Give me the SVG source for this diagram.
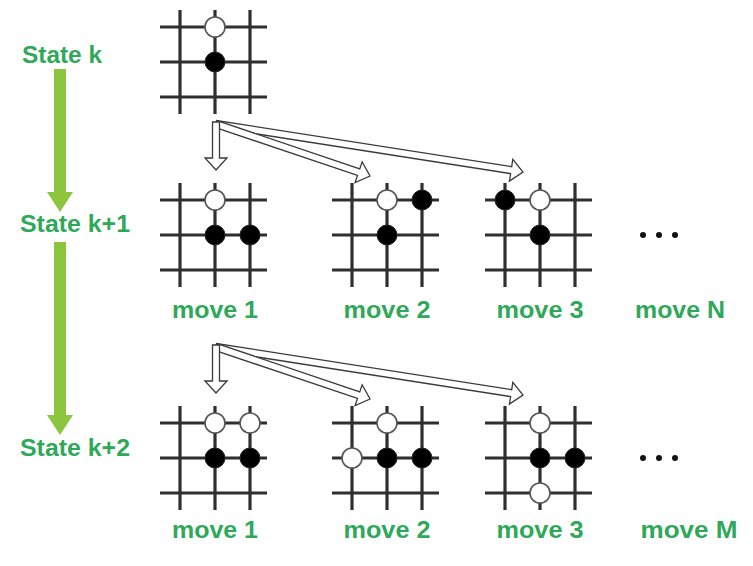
<svg xmlns="http://www.w3.org/2000/svg" width="753" height="566" viewBox="0 0 753 566">
<style>
.g line{stroke:#2f2f2f;stroke-width:3.2;stroke-linecap:butt}
.w{fill:#fff;stroke:#555;stroke-width:1.6}
.b{fill:#000;stroke:#222;stroke-width:1}
.lbl{font-family:"Liberation Sans",Arial,sans-serif;font-weight:bold;font-size:24px;fill:#2fa85a;text-anchor:middle}
.st{font-family:"Liberation Sans",Arial,sans-serif;font-weight:bold;font-size:24px;fill:#2fa85a;text-anchor:middle}
.ga{fill:#8cc63f}
.ba{fill:#fff;stroke:#3a3a3a;stroke-width:1.3;stroke-linejoin:miter}
.dot{fill:#111}
</style>
<defs>
<g id="grid" class="g">
<line x1="-20" y1="0" x2="87" y2="0"/>
<line x1="-20" y1="35" x2="87" y2="35"/>
<line x1="-20" y1="70" x2="87" y2="70"/>
<line x1="0" y1="-17" x2="0" y2="87"/>
<line x1="35" y1="-17" x2="35" y2="87"/>
<line x1="70" y1="-17" x2="70" y2="87"/>
</g>
</defs>
<rect width="753" height="566" fill="#fff"/>

<g id="state-labels">
<text class="st" x="62" y="63" textLength="80" lengthAdjust="spacingAndGlyphs">State k</text>
<text class="st" x="75" y="232" textLength="110" lengthAdjust="spacingAndGlyphs">State k+1</text>
<text class="st" x="75" y="456" textLength="110" lengthAdjust="spacingAndGlyphs">State k+2</text>
</g>

<g id="connectors">
<polygon class="ga" points="54,69 66,69 66,192 73,192 60,212 47,192 54,192"/>
<polygon class="ga" points="54,242 66,242 66,415 73,415 60,435 47,415 54,415"/>
<g id="arrows-k">
<polygon class="ba" points="215.46,127.46 510.60,173.61 509.44,181.02 523,172 512.84,159.28 511.68,166.69 216.54,120.54"/>
<polygon class="ba" points="214.88,127.32 357.51,175.48 355.11,182.58 370,176 362.15,161.74 359.75,168.84 217.12,120.68"/>
<polygon class="ba" points="212.5,122 219.5,122 219.5,158 227,158 216,170 205,158 212.5,158"/>
</g>
<g id="arrows-k1" transform="translate(0,223)">
<polygon class="ba" points="215.46,127.46 510.60,173.61 509.44,181.02 523,172 512.84,159.28 511.68,166.69 216.54,120.54"/>
<polygon class="ba" points="214.88,127.32 357.51,175.48 355.11,182.58 370,176 362.15,161.74 359.75,168.84 217.12,120.68"/>
<polygon class="ba" points="212.5,122 219.5,122 219.5,158 227,158 216,170 205,158 212.5,158"/>
</g>
</g>

<g id="board-k">
<use href="#grid" x="180" y="27"/>
<circle class="w" cx="215" cy="27" r="10"/>
<circle class="b" cx="215" cy="62" r="10"/>
</g>

<g id="board-k1-m1">
<use href="#grid" x="180" y="200"/>
<circle class="w" cx="215" cy="200" r="10"/>
<circle class="b" cx="215" cy="235" r="10"/>
<circle class="b" cx="250" cy="235" r="10"/>
<text class="lbl" x="215" y="318" textLength="86" lengthAdjust="spacingAndGlyphs">move 1</text>
</g>
<g id="board-k1-m2">
<use href="#grid" x="352" y="200"/>
<circle class="w" cx="387" cy="200" r="10"/>
<circle class="b" cx="422" cy="200" r="10"/>
<circle class="b" cx="387" cy="235" r="10"/>
<text class="lbl" x="387" y="318" textLength="87" lengthAdjust="spacingAndGlyphs">move 2</text>
</g>
<g id="board-k1-m3">
<use href="#grid" x="505" y="200"/>
<circle class="b" cx="505" cy="200" r="10"/>
<circle class="w" cx="540" cy="200" r="10"/>
<circle class="b" cx="540" cy="235" r="10"/>
<text class="lbl" x="540" y="318" textLength="87" lengthAdjust="spacingAndGlyphs">move 3</text>
</g>
<g id="board-k1-mN">
<circle class="dot" cx="643" cy="235" r="3"/>
<circle class="dot" cx="659" cy="235" r="3"/>
<circle class="dot" cx="675" cy="235" r="3"/>
<text class="lbl" x="680" y="318" textLength="90" lengthAdjust="spacingAndGlyphs">move N</text>
</g>

<g id="board-k2-m1">
<use href="#grid" x="180" y="423"/>
<circle class="w" cx="215" cy="423" r="10"/>
<circle class="w" cx="250" cy="423" r="10"/>
<circle class="b" cx="215" cy="458" r="10"/>
<circle class="b" cx="250" cy="458" r="10"/>
<text class="lbl" x="215" y="538" textLength="86" lengthAdjust="spacingAndGlyphs">move 1</text>
</g>
<g id="board-k2-m2">
<use href="#grid" x="352" y="423"/>
<circle class="w" cx="387" cy="423" r="10"/>
<circle class="w" cx="352" cy="458" r="10"/>
<circle class="b" cx="387" cy="458" r="10"/>
<circle class="b" cx="422" cy="458" r="10"/>
<text class="lbl" x="387" y="538" textLength="87" lengthAdjust="spacingAndGlyphs">move 2</text>
</g>
<g id="board-k2-m3">
<use href="#grid" x="505" y="423"/>
<circle class="w" cx="540" cy="423" r="10"/>
<circle class="b" cx="540" cy="458" r="10"/>
<circle class="b" cx="575" cy="458" r="10"/>
<circle class="w" cx="540" cy="493" r="10"/>
<text class="lbl" x="540" y="538" textLength="87" lengthAdjust="spacingAndGlyphs">move 3</text>
</g>
<g id="board-k2-mM">
<circle class="dot" cx="643" cy="458" r="3"/>
<circle class="dot" cx="659" cy="458" r="3"/>
<circle class="dot" cx="675" cy="458" r="3"/>
<text class="lbl" x="689" y="538" textLength="97" lengthAdjust="spacingAndGlyphs">move M</text>
</g>
</svg>
